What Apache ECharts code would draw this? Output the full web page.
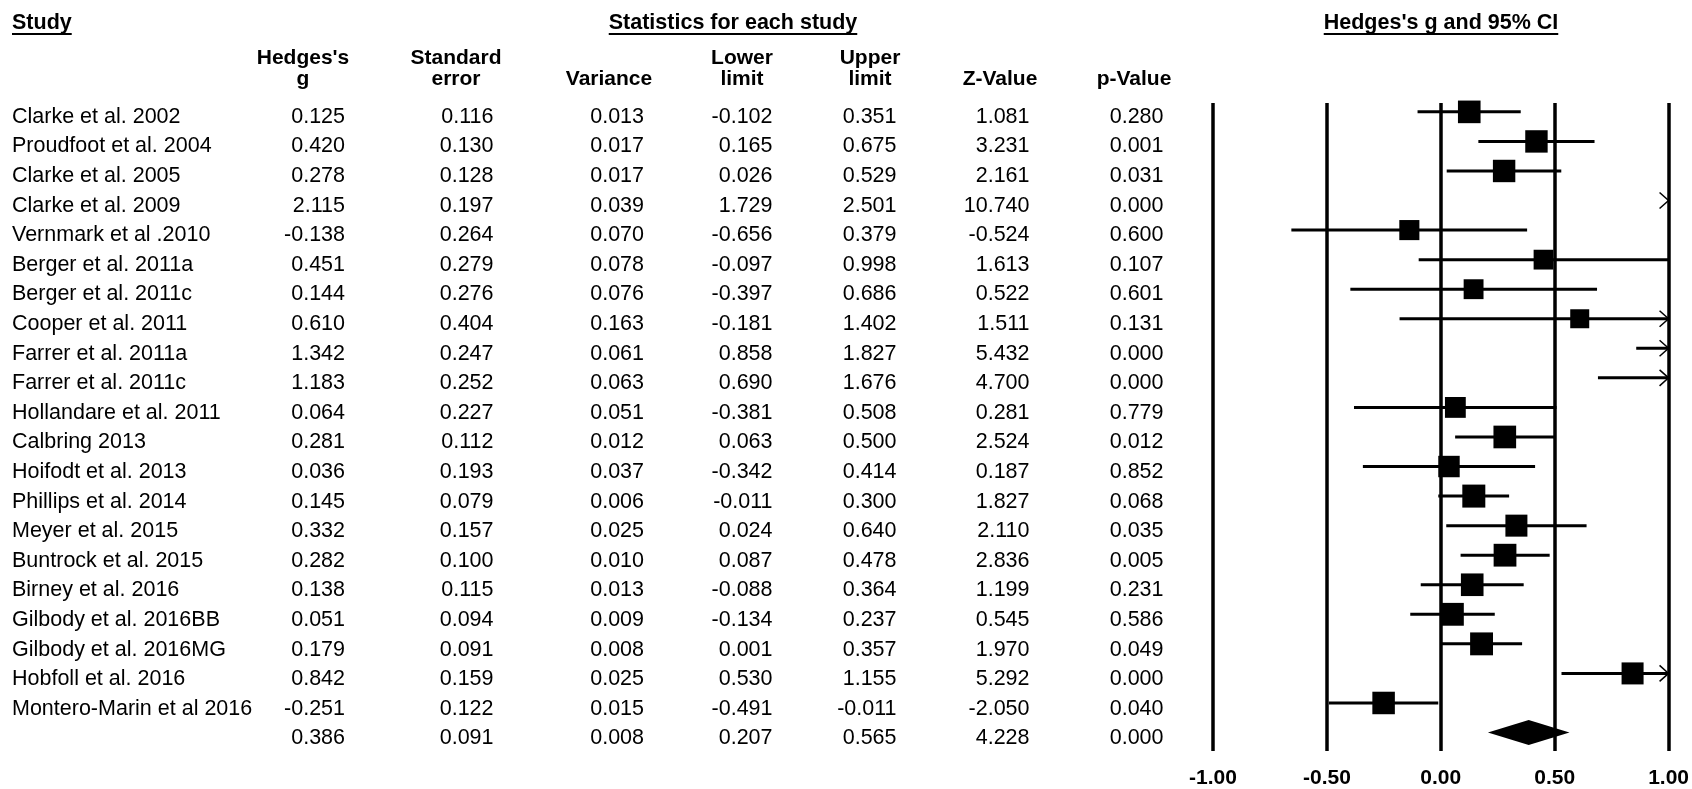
<!DOCTYPE html>
<html><head><meta charset="utf-8">
<script src="https://cdn.jsdelivr.net/npm/echarts@6/dist/echarts.min.js"></script>
<style>html,body{margin:0;padding:0;background:#fff;}#c{width:1692px;height:789px;}</style>
</head><body><div id="c"></div><script>
// ---------- data ----------
const studies = ["Clarke et al. 2002","Proudfoot et al. 2004","Clarke et al. 2005","Clarke et al. 2009","Vernmark et al .2010","Berger et al. 2011a","Berger et al. 2011c","Cooper et al. 2011","Farrer et al. 2011a","Farrer et al. 2011c","Hollandare et al. 2011","Calbring 2013","Hoifodt et al. 2013","Phillips et al. 2014","Meyer et al. 2015","Buntrock et al. 2015","Birney et al. 2016","Gilbody et al. 2016BB","Gilbody et al. 2016MG","Hobfoll et al. 2016","Montero-Marin et al 2016"];
const hedgesG = [0.125,0.420,0.278,2.115,-0.138,0.451,0.144,0.610,1.342,1.183,0.064,0.281,0.036,0.145,0.332,0.282,0.138,0.051,0.179,0.842,-0.251];
const stdErr = [0.116,0.130,0.128,0.197,0.264,0.279,0.276,0.404,0.247,0.252,0.227,0.112,0.193,0.079,0.157,0.100,0.115,0.094,0.091,0.159,0.122];
const variance = [0.013,0.017,0.017,0.039,0.070,0.078,0.076,0.163,0.061,0.063,0.051,0.012,0.037,0.006,0.025,0.010,0.013,0.009,0.008,0.025,0.015];
const lowerLimit = [-0.102,0.165,0.026,1.729,-0.656,-0.097,-0.397,-0.181,0.858,0.690,-0.381,0.063,-0.342,-0.011,0.024,0.087,-0.088,-0.134,0.001,0.530,-0.491];
const upperLimit = [0.351,0.675,0.529,2.501,0.379,0.998,0.686,1.402,1.827,1.676,0.508,0.500,0.414,0.300,0.640,0.478,0.364,0.237,0.357,1.155,-0.011];
const zValue = [1.081,3.231,2.161,10.740,-0.524,1.613,0.522,1.511,5.432,4.700,0.281,2.524,0.187,1.827,2.110,2.836,1.199,0.545,1.970,5.292,-2.050];
const pValue = [0.280,0.001,0.031,0.000,0.600,0.107,0.601,0.131,0.000,0.000,0.779,0.012,0.852,0.068,0.035,0.005,0.231,0.586,0.049,0.000,0.040];
// pooled (summary) row: g, se, variance, lower, upper, z, p
const pooled = [0.386,0.091,0.008,0.207,0.565,4.228,0.000];
const xTicks = [-1.00,-0.50,0.00,0.50,1.00];
const headerTop = ["Hedges's","Standard","","Lower","Upper","",""];
const headerBottom = ["g","error","Variance","limit","limit","Z-Value","p-Value"];

// ---------- layout / style ----------
const FONT_FAMILY = '"Liberation Sans", Arial, Helvetica, sans-serif';
const BODY_FONT = '21.5px ' + FONT_FAMILY;
const HEAD_FONT = 'bold 21px ' + FONT_FAMILY;
const TITLE_FONT = 'bold 21.5px ' + FONT_FAMILY;
const colRight = [345, 493.5, 644, 772.5, 896.5, 1029.5, 1163.5];
const colHeadCenter = [303, 456, 609, 742, 870, 1000, 1134];
const nRows = studies.length;
const textOffset = 5;

const rows = studies.map((s, i) => ({label: s, vals: [hedgesG[i], stdErr[i], variance[i], lowerLimit[i], upperLimit[i], zValue[i], pValue[i]]}));
rows.push({label: '', vals: pooled});

function measure(txt, font) {
  const c = document.createElement('canvas').getContext('2d');
  c.font = font; return c.measureText(txt).width;
}

// square size from weight (style rule)
const T = 0.2, vMin = Math.min.apply(null, variance);
function sqSize(v) { return Math.max(19, 23 * Math.sqrt((vMin + T) / (v + T))); }

const chart = echarts.init(document.getElementById('c'), null, {renderer: 'canvas'});

const graphics = [];
function title(txt, x, align) {
  const w = measure(txt, TITLE_FONT);
  const x0 = align === 'left' ? x : x - w / 2;
  graphics.push({type: 'text', x: x0, y: 23, style: {text: txt, font: TITLE_FONT, fill: '#000', align: 'left', textAlign: 'left', verticalAlign: 'middle', textVerticalAlign: 'middle'}});
  graphics.push({type: 'line', shape: {x1: x0, y1: 34, x2: x0 + w, y2: 34}, style: {stroke: '#000', lineWidth: 2}});
}
title('Study', 12, 'left');
title('Statistics for each study', 733, 'center');
title("Hedges's g and 95% CI", 1441, 'center');
headerTop.forEach((t, k) => {
  if (t) graphics.push({type: 'text', x: colHeadCenter[k], y: 58.5, style: {text: t, font: HEAD_FONT, fill: '#000', align: 'center', textAlign: 'center', verticalAlign: 'middle', textVerticalAlign: 'middle'}});
});
headerBottom.forEach((t, k) => {
  graphics.push({type: 'text', x: colHeadCenter[k], y: 79.5, style: {text: t, font: HEAD_FONT, fill: '#000', align: 'center', textAlign: 'center', verticalAlign: 'middle', textVerticalAlign: 'middle'}});
});

const yAxisCommon = {type: 'value', inverse: true, min: -0.3, max: 21.625, show: false};

const option = {
  animation: false,
  backgroundColor: '#fff',
  graphic: graphics,
  grid: [
    {left: 1213, right: 22, top: 103, height: 649},
    {left: 0, width: 1692, top: 103, height: 649}
  ],
  xAxis: [
    {gridIndex: 0, type: 'value', min: xTicks[0], max: xTicks[xTicks.length - 1], interval: 0.5,
      axisLine: {show: false}, axisTick: {show: false},
      splitLine: {show: true, showMinLine: true, showMaxLine: true, lineStyle: {color: '#000', width: 3.5}},
      axisLabel: {formatter: v => v.toFixed(2), color: '#000', fontWeight: 'bold', fontSize: 21, fontFamily: FONT_FAMILY, margin: 17, showMinLabel: true, showMaxLabel: true}},
    {gridIndex: 1, type: 'value', min: 0, max: 1692, show: false}
  ],
  yAxis: [
    Object.assign({gridIndex: 0}, yAxisCommon),
    Object.assign({gridIndex: 1}, yAxisCommon)
  ],
  series: [
    { // confidence intervals + arrows
      type: 'custom', xAxisIndex: 0, yAxisIndex: 0, clip: false,
      data: studies.map((s, i) => [lowerLimit[i], upperLimit[i], i]),
      renderItem: function (params, api) {
        const lo = api.value(0), hi = api.value(1), r = api.value(2);
        const children = [];
        const a = Math.max(lo, -1), b = Math.min(hi, 1);
        if (a < b) {
          const p1 = api.coord([a, r]), p2 = api.coord([b, r]);
          children.push({type: 'line', shape: {x1: p1[0], y1: p1[1], x2: p2[0], y2: p2[1]}, style: {stroke: '#000', lineWidth: 3}});
        }
        if (hi > 1) {
          const p = api.coord([1, r]);
          children.push({type: 'polyline', shape: {points: [[p[0] - 9, p[1] - 8], [p[0], p[1]], [p[0] - 9, p[1] + 8]]}, style: {stroke: '#000', lineWidth: 1.5, fill: null}});
        }
        if (lo < -1) {
          const p = api.coord([-1, r]);
          children.push({type: 'polyline', shape: {points: [[p[0] + 9, p[1] - 8], [p[0], p[1]], [p[0] + 9, p[1] + 8]]}, style: {stroke: '#000', lineWidth: 1.5, fill: null}});
        }
        return {type: 'group', children: children};
      }
    },
    { // point estimates
      type: 'scatter', xAxisIndex: 0, yAxisIndex: 0, symbol: 'rect', clip: true,
      itemStyle: {color: '#000', opacity: 1},
      emphasis: {disabled: true},
      data: studies.map((s, i) => ({value: [hedgesG[i], i], symbolSize: sqSize(variance[i])})).filter(d => d.value[0] >= -1 && d.value[0] <= 1)
    },
    { // pooled diamond
      type: 'custom', xAxisIndex: 0, yAxisIndex: 0, clip: false,
      data: [[pooled[0], pooled[3], pooled[4], nRows]],
      renderItem: function (params, api) {
        const g = api.coord([api.value(0), api.value(3)]);
        const l = api.coord([api.value(1), api.value(3)]);
        const u = api.coord([api.value(2), api.value(3)]);
        const h = 12.5;
        return {type: 'polygon', shape: {points: [[l[0], l[1]], [g[0], g[1] - h], [u[0], u[1]], [g[0], g[1] + h]]}, style: {fill: '#000'}};
      }
    },
    { // table text
      type: 'custom', xAxisIndex: 1, yAxisIndex: 1, clip: false,
      data: rows.map((r, i) => [0, i]),
      renderItem: function (params, api) {
        const row = rows[params.dataIndex];
        const y = api.coord([0, api.value(1)])[1] + textOffset;
        const children = [{type: 'text', x: api.coord([12, 0])[0], y: y, style: {text: row.label, font: BODY_FONT, fill: '#000', align: 'left', textAlign: 'left', verticalAlign: 'middle', textVerticalAlign: 'middle'}}];
        row.vals.forEach((v, k) => {
          children.push({type: 'text', x: api.coord([colRight[k], 0])[0], y: y, style: {text: v.toFixed(3), font: BODY_FONT, fill: '#000', align: 'right', textAlign: 'right', verticalAlign: 'middle', textVerticalAlign: 'middle'}});
        });
        return {type: 'group', children: children};
      }
    }
  ]
};
chart.setOption(option);
</script></body></html>
